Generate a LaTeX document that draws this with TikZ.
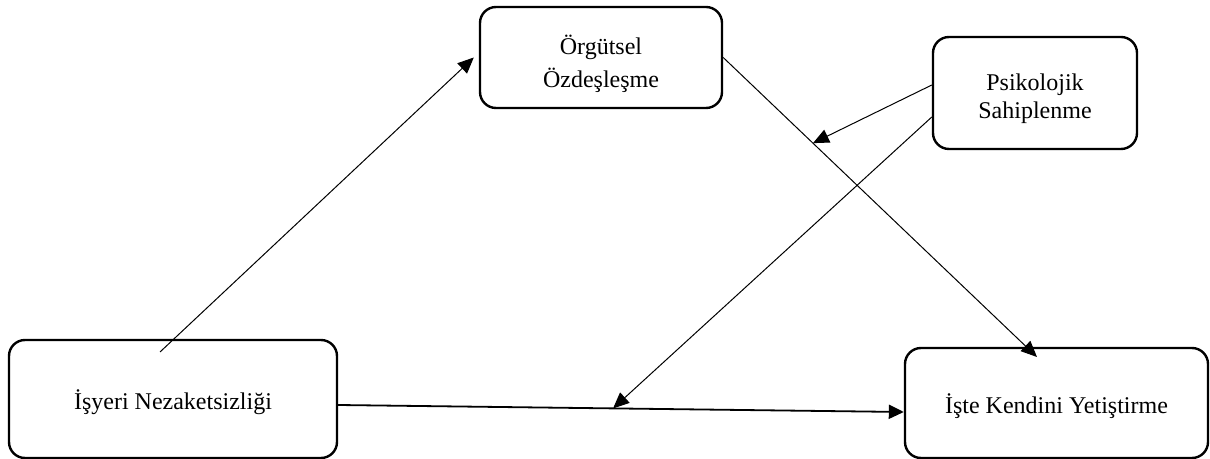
\documentclass[tikz,border=0pt]{standalone}
\usepackage{fontspec}
\setmainfont{Liberation Serif}
\usepackage{tikz}
\usetikzlibrary{arrows.meta}
\tikzset{
    box/.style={draw, line width=1.2pt, rounded corners=8pt, inner sep=0pt},
    lbl/.style={align=center, font=\fontsize{12}{16.5}\selectfont},
    arr/.style={line width=0.5pt, -{Triangle[length=8pt,width=7pt]}},
    arrthick/.style={line width=0.9pt, -{Triangle[length=7.5pt,width=7pt]}}
}

\begin{document}
\begin{tikzpicture}[x=0.5pt, y=-0.5pt]
    \useasboundingbox (0,0) rectangle (1210,459);

    % Orgutsel Ozdeslesme
    \node[box, minimum width=121pt, minimum height=50.5pt] (org) at (601,57.5) {};
    \node[lbl] (orgtxt) at ([yshift=-3pt]org.center) {Örgütsel\\Özdeşleşme};

    % Psikolojik Sahiplenme
    \node[box, minimum width=102pt, minimum height=56pt] (psi) at (1035,93) {};
    \node[lbl, font=\fontsize{12}{14}\selectfont] (psitxt) at ([yshift=-3pt]psi.center) {Psikolojik\\Sahiplenme};

    % Isyeri Nezaketsizligi
    \node[box, minimum width=164pt, minimum height=59pt] (isy) at (173,399) {};
    \node[lbl] (isytxt) at ([yshift=-1.5pt]isy.center) {İşyeri Nezaketsizliği};

    % Iste Kendini Yetistirme
    \node[box, minimum width=151.5pt, minimum height=55pt] (iste) at (1056.5,403) {};
    \node[lbl] (istetxt) at ([yshift=-1.5pt]iste.center) {İşte Kendini Yetiştirme};

    % free ends
    \coordinate (s1) at (160,352);
    \coordinate (t2) at (1037,357);
    \path (org.east) -- (t2) coordinate[pos=0.286] (m2);
    \path ([yshift=-3pt]isy.east) -- ([yshift=-4.5pt]iste.west) coordinate[pos=0.486] (m5);

    % paths
    \draw[arr] (s1) -- ([xshift=-2.5pt]org.west);
    \draw[arr] (org.east) -- (t2);
    \draw[arr] ([yshift=4pt]psi.west) -- (m2);
    \draw[arr] ([yshift=-12pt]psi.west) -- (m5);
    \draw[arrthick] ([yshift=-3pt]isy.east) -- ([yshift=-4.5pt]iste.west);
\end{tikzpicture}
\end{document}
